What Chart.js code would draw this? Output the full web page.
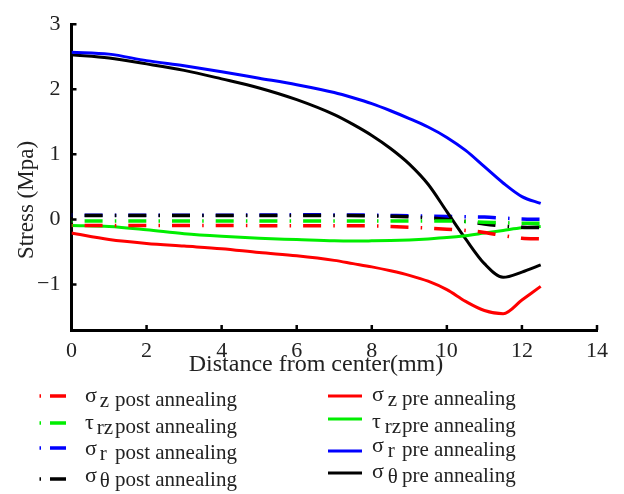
<!DOCTYPE html>
<html lang="en">
<head>
<meta charset="UTF-8">
<title>Stress vs distance from center</title>
<style>
* { margin: 0; padding: 0; box-sizing: border-box; }
body { background: #fff; width: 624px; height: 494px; overflow: hidden; }
canvas { display: block; }
</style>
</head>
<body>
<canvas id="stressChart" width="624" height="494"></canvas>
<script src="https://cdn.jsdelivr.net/npm/chart.js"></script>
<script>
// distance from center (mm)
var xPre = [0, 1, 2, 3, 4, 5, 6, 7, 7.5, 8, 8.5, 9, 9.5, 10, 10.5, 11, 11.5, 12, 12.5];
var xPost = [0, 2, 4, 6, 8, 9, 10, 10.5, 11, 11.5, 12, 12.5];

// pre annealing (solid)
var sigmaZPre = [-0.21, -0.31, -0.37, -0.41, -0.45, -0.51, -0.56, -0.63, -0.68, -0.73, -0.79, -0.86, -0.95, -1.08, -1.26, -1.40, -1.45, -1.24, -1.03];
var tauRZPre = [-0.095, -0.11, -0.16, -0.22, -0.26, -0.29, -0.31, -0.33, -0.333, -0.33, -0.325, -0.315, -0.30, -0.28, -0.25, -0.21, -0.17, -0.13, -0.11];
var sigmaRPre = [2.57, 2.54, 2.44, 2.36, 2.27, 2.17, 2.07, 1.95, 1.87, 1.78, 1.67, 1.55, 1.42, 1.26, 1.06, 0.81, 0.56, 0.35, 0.245];
var sigmaTPre = [2.53, 2.48, 2.39, 2.29, 2.16, 2.02, 1.84, 1.61, 1.46, 1.29, 1.09, 0.85, 0.54, 0.12, -0.30, -0.68, -0.89, -0.81, -0.70];

// post annealing (dash-dot)
var sigmaZPost = [-0.095, -0.095, -0.095, -0.097, -0.10, -0.12, -0.15, -0.17, -0.20, -0.25, -0.29, -0.30];
var tauRZPost = [-0.025, -0.025, -0.025, -0.025, -0.025, -0.025, -0.025, -0.035, -0.045, -0.05, -0.06, -0.06];
var sigmaRPost = [0.065, 0.065, 0.065, 0.07, 0.065, 0.055, 0.045, 0.04, 0.035, 0.02, 0.005, 0.0];
var sigmaTPost = [0.06, 0.06, 0.06, 0.06, 0.055, 0.04, 0.0, -0.03, -0.07, -0.10, -0.12, -0.125];

var xTicks = [0, 2, 4, 6, 8, 10, 12, 14];
var yTicks = [-1, 0, 1, 2, 3];

var legendGreek = ['σ', 'τ', 'σ', 'σ'];
var legendSub = ['z', 'rz', 'r', 'θ'];

var colors = ['#ff0000', '#00ee00', '#0000ff', '#000000'];
var dashDot = [18, 12.2, 1.5, 12];

function pts(xs, ys) {
    return xs.map(function(x, i) { return { x: x, y: ys[i] }; });
}

function postSet(label, ys, color) {
    return {
        label: label, data: pts(xPost, ys), borderColor: color, borderWidth: 3.5,
        borderDash: dashDot, borderDashOffset: 30.6, pointRadius: 0,
        cubicInterpolationMode: 'monotone', fill: false
    };
}
function preSet(label, ys, color) {
    return {
        label: label, data: pts(xPre, ys), borderColor: color, borderWidth: 3,
        pointRadius: 0, cubicInterpolationMode: 'monotone', fill: false
    };
}

var datasets = [
    postSet('σz post annealing', sigmaZPost, colors[0]),
    postSet('τrz post annealing', tauRZPost, colors[1]),
    postSet('σr post annealing', sigmaRPost, colors[2]),
    postSet('σθ post annealing', sigmaTPost, colors[3]),
    preSet('σz pre annealing', sigmaZPre, colors[0]),
    preSet('τrz pre annealing', tauRZPre, colors[1]),
    preSet('σr pre annealing', sigmaRPre, colors[2]),
    preSet('σθ pre annealing', sigmaTPre, colors[3])
];
// post annealing blue sits under the black one
datasets[2].order = 1;

var serif = '"Liberation Serif", "DejaVu Serif", serif';
var textColor = '#222';

// inward ticks, axis titles and the two column legend
var decorations = {
    id: 'decorations',
    afterDraw: function(chart) {
        var ctx = chart.ctx, a = chart.chartArea;
        var xs = chart.scales.x, ys = chart.scales.y;
        ctx.save();
        ctx.strokeStyle = '#000';
        ctx.lineWidth = 2.5;
        ctx.beginPath();
        xs.ticks.forEach(function(t) {
            var px = xs.getPixelForValue(t.value);
            ctx.moveTo(px, a.bottom); ctx.lineTo(px, a.bottom - 5);
        });
        ys.ticks.forEach(function(t) {
            var py = ys.getPixelForValue(t.value);
            ctx.moveTo(a.left, py); ctx.lineTo(a.left + 5, py);
        });
        ctx.stroke();

        ctx.fillStyle = textColor;
        ctx.font = '24px ' + serif;
        ctx.textAlign = 'center';
        ctx.textBaseline = 'alphabetic';
        ctx.fillText('Distance from center(mm)', 316, 371);

        ctx.save();
        ctx.translate(33, 200);
        ctx.rotate(-Math.PI / 2);
        ctx.font = '23px ' + serif;
        ctx.fillText('Stress (Mpa)', 0, 0);
        ctx.restore();

        // legend
        var leftSampleY = [396, 423, 448, 479];
        var leftTextY = [406, 433, 459, 486];
        var rightSampleY = [396, 419, 451, 473];
        var rightTextY = [405, 432, 456, 482];
        ctx.textAlign = 'left';
        for (var i = 0; i < 4; i++) {
            var post = chart.data.datasets[i], pre = chart.data.datasets[i + 4];
            // dash-dot sample
            ctx.strokeStyle = post.borderColor;
            ctx.lineWidth = 3.5;
            ctx.beginPath();
            ctx.moveTo(39.5, leftSampleY[i]); ctx.lineTo(41, leftSampleY[i]);
            ctx.moveTo(50, leftSampleY[i]); ctx.lineTo(66, leftSampleY[i]);
            ctx.stroke();
            // solid sample
            ctx.strokeStyle = pre.borderColor;
            ctx.lineWidth = 3;
            ctx.beginPath();
            ctx.moveTo(328, rightSampleY[i]); ctx.lineTo(362, rightSampleY[i]);
            ctx.stroke();

            drawLabel(ctx, 85, 115, leftTextY[i], legendGreek[i], legendSub[i], 'post annealing', 3);
            drawLabel(ctx, 372, 402, rightTextY[i], legendGreek[i], legendSub[i], 'pre annealing', 4);
        }
        ctx.restore();
    }
};

function drawLabel(ctx, gx, tx, base, greek, sub, rest, gap) {
    ctx.fillStyle = textColor;
    ctx.font = '22px ' + serif;
    ctx.fillText(greek, gx, base - 4);
    var gw = ctx.measureText(greek).width;
    ctx.font = '21px ' + serif;
    ctx.fillText(sub, gx + gw + gap, base + 1);
    ctx.fillText(rest, tx, base);
}

new Chart(document.getElementById('stressChart'), {
    type: 'line',
    data: { datasets: datasets },
    options: {
        responsive: false,
        animation: false,
        devicePixelRatio: 1,
        layout: { padding: { top: 8, right: 27, bottom: 0, left: 0 } },
        plugins: { legend: { display: false }, tooltip: { enabled: false } },
        scales: {
            x: {
                type: 'linear', min: 0, max: 14,
                afterFit: function(s) { s.height = 164; },
                afterBuildTicks: function(s) { s.ticks = xTicks.map(function(v) { return { value: v }; }); },
                grid: { display: true, drawOnChartArea: false, drawTicks: false },
                border: { display: true, color: '#000', width: 3 },
                ticks: { padding: 8, color: textColor, font: { family: serif, size: 22 }, maxRotation: 0 }
            },
            y: {
                type: 'linear', min: -1.7, max: 3,
                afterFit: function(s) { s.width = 71.5; },
                afterBuildTicks: function(s) { s.ticks = yTicks.map(function(v) { return { value: v }; }); },
                grid: { display: true, drawOnChartArea: false, drawTicks: false },
                border: { display: true, color: '#000', width: 3 },
                ticks: {
                    padding: 11, color: textColor, font: { family: serif, size: 22 },
                    callback: function(v) { return v < 0 ? '\u2212' + Math.abs(v) : String(v); }
                }
            }
        }
    },
    plugins: [decorations]
});
</script>
</body>
</html>
